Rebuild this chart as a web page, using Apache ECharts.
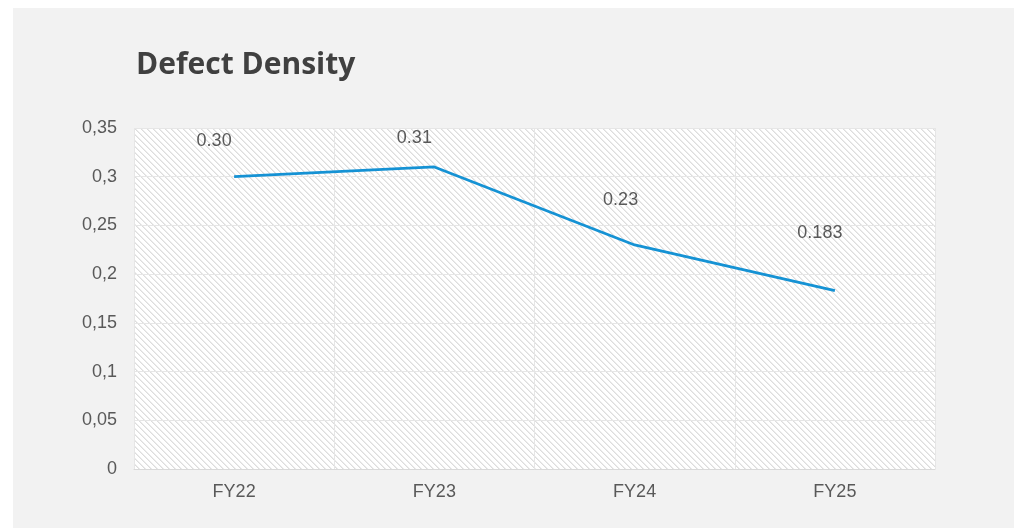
<!DOCTYPE html>
<html>
<head>
<meta charset="utf-8">
<script src="https://cdn.jsdelivr.net/npm/echarts@6/dist/echarts.min.js"></script>
<style>
html,body{margin:0;padding:0;background:#ffffff;}
#wrap{position:relative;width:1014px;height:528px;overflow:hidden;}
#bg{position:absolute;left:13px;top:8px;right:0;bottom:0;background:#f2f2f2;}
#chart{position:absolute;left:0;top:0;width:1014px;height:528px;}
</style>
</head>
<body>
<div id="wrap"><div id="bg"></div><div id="chart"></div></div>
<script>
const categories = ['FY22', 'FY23', 'FY24', 'FY25'];
const values = [0.30, 0.31, 0.23, 0.183];
const valueLabels = ['0.30', '0.31', '0.23', '0.183'];
const labelOffsets = [[-20, -36], [-20, -29], [-14, -45], [-15, -58]];
const yMin = 0, yMax = 0.35, yInterval = 0.05;

// hatch pattern for plot area
const P = 6;
const pc = document.createElement('canvas');
pc.width = P; pc.height = P;
const pctx = pc.getContext('2d');
pctx.fillStyle = '#ffffff';
pctx.fillRect(0, 0, P, P);
for (let i = 0; i < P; i++) {
  pctx.fillStyle = '#dddddd';
  pctx.fillRect(i, i, 1, 1);
  pctx.fillStyle = '#ececec';
  pctx.fillRect((i + 1) % P, i, 1, 1);
}

const chart = echarts.init(document.getElementById('chart'), null, {renderer: 'canvas'});
const axisFont = {fontFamily: 'Liberation Sans, Arial, sans-serif', fontSize: 18, color: '#595959'};
chart.setOption({
  backgroundColor: 'transparent',
  animation: false,
  title: {
    text: 'Defect Density',
    left: 131, top: 45,
    textStyle: {fontFamily: '"Open Sans", Lato, sans-serif', fontSize: 30, fontWeight: 'bold', color: '#404040'}
  },
  grid: {
    left: 134, right: 79, top: 128, bottom: 59,
    show: true,
    borderWidth: 0,
    backgroundColor: {image: pc, repeat: 'repeat'}
  },
  xAxis: {
    type: 'category',
    data: categories,
    boundaryGap: true,
    axisLine: {show: true, lineStyle: {color: '#d9d9d9', width: 1}},
    axisTick: {show: false},
    splitLine: {show: true, interval: 0, lineStyle: {color: '#e6e6e6', width: 1}},
    axisLabel: Object.assign({margin: 14}, axisFont)
  },
  yAxis: {
    type: 'value',
    min: yMin, max: yMax, interval: yInterval,
    axisLine: {show: false},
    axisTick: {show: false},
    splitLine: {show: true, lineStyle: {color: '#e6e6e6', width: 1}},
    axisLabel: Object.assign({
      margin: 17,
      formatter: v => String(Math.round(v * 100) / 100).replace('.', ',')
    }, axisFont)
  },
  series: [{
    type: 'line',
    data: values.map((v, i) => ({
      value: v,
      label: {offset: labelOffsets[i]}
    })),
    symbol: 'circle',
    symbolSize: 0,
    showSymbol: true,
    lineStyle: {color: '#1592d4', width: 2.75},
    itemStyle: {color: '#1592d4'},
    label: {
      show: true,
      position: 'inside',
      align: 'center',
      verticalAlign: 'middle',
      fontFamily: 'Liberation Sans, Arial, sans-serif',
      fontSize: 18,
      color: '#595959',
      formatter: p => valueLabels[p.dataIndex]
    }
  }]
});
</script>
</body>
</html>
